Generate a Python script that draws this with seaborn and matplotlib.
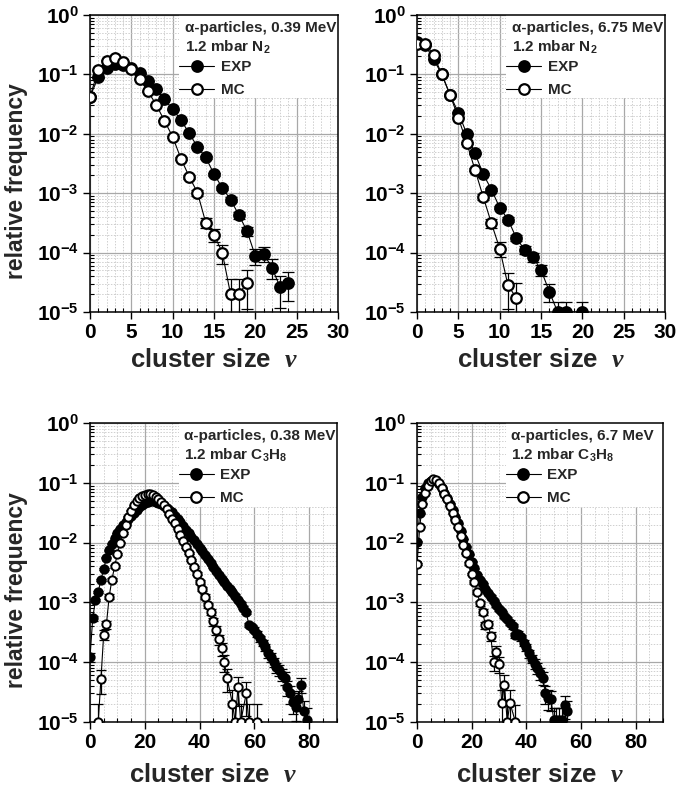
import numpy as np
import matplotlib
matplotlib.use("Agg")
import matplotlib.pyplot as plt
import seaborn as sns
from matplotlib.ticker import MultipleLocator, LogLocator, FuncFormatter, NullFormatter
from matplotlib.patches import Rectangle

sns.set_theme(style="ticks")
plt.rcParams.update({
    "font.family": ["Liberation Sans", "DejaVu Sans"],
    "font.weight": "bold",
    "mathtext.fontset": "custom",
    "mathtext.rm": "Liberation Sans:bold",
    "mathtext.bf": "Liberation Sans:bold",
    "mathtext.it": "Liberation Serif:italic",
    "axes.edgecolor": "black",
    "axes.linewidth": 1.1,
    "xtick.color": "black",
    "ytick.color": "black",
})

# ---- alpha-particles 0.39 MeV in 1.2 mbar N2 ----
n2_low_exp_nu = list(range(0, 25))
n2_low_exp = [0.042, 0.089, 0.126, 0.149, 0.144, 0.126, 0.104, 0.077, 0.056, 0.038,
              0.026, 0.017, 0.0102, 0.0060, 0.0040, 0.0021, 0.00123, 0.00078, 0.00043,
              0.00023, 8.7e-5, 9.6e-5, 5.6e-5, 2.6e-5, 3.1e-5]
n2_low_mc_nu = list(range(0, 20))
n2_low_mc = [0.042, 0.118, 0.17, 0.19, 0.163, 0.125, 0.083, 0.052, 0.031, 0.0166,
             0.0089, 0.0038, 0.0019, 0.00102, 0.00032, 0.0002, 0.0001, 2.0e-5, 2.0e-5, 3.1e-5]

# ---- alpha-particles 6.75 MeV in 1.2 mbar N2 ----
n2_high_exp_nu = list(range(0, 19)) + [20]
n2_high_exp = [0.355, 0.31, 0.18, 0.10, 0.045, 0.0226, 0.0101, 0.0047, 0.0021, 0.00115,
               0.00057, 0.00036, 0.000177, 0.000112, 8.5e-5, 5.1e-5, 2.2e-5, 1.0e-5, 1.0e-5,
               1.0e-5]
n2_high_mc_nu = list(range(0, 13))
n2_high_mc = [0.33, 0.33, 0.21, 0.10, 0.045, 0.0186, 0.0071, 0.0025, 0.00087, 0.00031,
              0.000117, 2.8e-5, 1.74e-5]

# ---- alpha-particles 0.38 MeV in 1.2 mbar C3H8 ----
c3h8_low_exp_nu = list(range(0, 80))
c3h8_low_exp = [1.2e-4, 5.4e-4, 1.1e-3, 1.5e-3, 2.4e-3, 3.6e-3, 5.6e-3, 7.5e-3, 9.6e-3, 0.0118,
                0.0145, 0.017, 0.0195, 0.022, 0.025, 0.028, 0.031, 0.035, 0.039, 0.043,
                0.046, 0.048, 0.049, 0.049, 0.048, 0.046, 0.044, 0.041, 0.038, 0.035,
                0.032, 0.028, 0.025, 0.022, 0.019, 0.0165, 0.0145, 0.0125, 0.011, 0.0095,
                0.0082, 0.0072, 0.0062, 0.0053, 0.0045, 0.0039, 0.0034, 0.0029, 0.0025, 0.0022,
                0.0019, 0.0017, 0.0015, 0.0013, 0.0011, 0.00095, 0.00082, 0.00068, 0.00042, 0.00039,
                0.00035, 0.00030, 0.00025, 0.00021, 0.00018, 0.00014, 0.00012, 0.0001, 8.2e-5, 7.5e-5,
                6.2e-5, 5.5e-5, 3.8e-5, 3.0e-5, 2.2e-5, 1.8e-5, 2.4e-5, 4.2e-5, 1.5e-5, 1.1e-5]
c3h8_low_mc_nu = list(range(3, 51)) + [52, 53, 54, 55, 57, 58, 61]
c3h8_low_mc = [1.0e-5, 5.2e-5, 2.9e-4, 4.3e-4, 1.25e-3, 2.4e-3, 4.0e-3, 6.5e-3, 0.0100, 0.0145,
               0.020, 0.027, 0.034, 0.042, 0.049, 0.055, 0.060, 0.063, 0.065, 0.065,
               0.063, 0.059, 0.054, 0.048, 0.042, 0.036, 0.030, 0.025, 0.021, 0.017,
               0.0135, 0.0108, 0.0085, 0.0066, 0.0051, 0.0039, 0.0030, 0.0022, 0.0017, 0.00125,
               9.0e-4, 7.0e-4, 4.8e-4, 3.4e-4, 2.4e-4, 1.7e-4, 1.0e-4, 5.5e-5,
               2.0e-5, 1.0e-5, 3.8e-5, 1.0e-5, 3.0e-5, 1.0e-5, 1.0e-5]

# ---- alpha-particles 6.7 MeV in 1.2 mbar C3H8 ----
c3h8_high_exp_nu = list(range(0, 56))
c3h8_high_exp = [0.0104, 0.031, 0.058, 0.082, 0.098, 0.108, 0.112, 0.107, 0.096, 0.082,
                 0.068, 0.056, 0.045, 0.035, 0.027, 0.021, 0.0155, 0.0115, 8.6e-3, 6.4e-3,
                 4.8e-3, 3.7e-3, 2.9e-3, 2.4e-3, 2.0e-3, 1.7e-3, 1.45e-3, 1.25e-3, 1.05e-3, 9.0e-4,
                 7.8e-4, 6.8e-4, 6.0e-4, 5.3e-4, 4.6e-4, 4.0e-4, 2.8e-4, 3.0e-4, 2.6e-4, 2.1e-4,
                 1.8e-4, 1.4e-4, 1.15e-4, 9.5e-5, 8.0e-5, 6.5e-5, 5.5e-5, 3.0e-5, 2.5e-5, 2.4e-5,
                 1.1e-5, 1.1e-5, 1.1e-5, 1.1e-5, 1.9e-5, 1.5e-5]
c3h8_high_mc_nu = list(range(0, 35)) + [36]
c3h8_high_mc = [4.4e-3, 0.0185, 0.045, 0.068, 0.090, 0.107, 0.116, 0.113, 0.100, 0.081,
                0.066, 0.053, 0.041, 0.031, 0.024, 0.018, 0.013, 9.3e-3, 6.6e-3, 4.5e-3,
                3.0e-3, 2.2e-3, 1.5e-3, 9.6e-4, 7.0e-4, 4.2e-4, 4.3e-4, 2.7e-4, 1.0e-4, 1.5e-4,
                9.5e-5, 2.1e-5, 4.2e-5, 1.0e-5, 2.1e-5, 1.0e-5]

# number of recorded events per distribution (sets the statistical error bars)
events = {
    "n2_low": (1.3e5, 8e4),
    "n2_high": (4e5, 1e5),
    "c3h8_low": (3e5, 1e5),
    "c3h8_high": (3e5, 1.2e5),
}

panels = [
    dict(key="n2_low", exp=(n2_low_exp_nu, n2_low_exp), mc=(n2_low_mc_nu, n2_low_mc),
         title="α-particles, 0.39 MeV", gas="1.2 mbar N$_2$",
         rect=[0.1302, 0.6056, 0.359, 0.3755], xmax=30, xmajor=5, xminor=1,
         ms=7.6, mew=1.6, cap=8, left=True, top=True),
    dict(key="n2_high", exp=(n2_high_exp_nu, n2_high_exp), mc=(n2_high_mc_nu, n2_high_mc),
         title="α-particles, 6.75 MeV", gas="1.2 mbar N$_2$",
         rect=[0.6035, 0.6056, 0.359, 0.3755], xmax=30, xmajor=5, xminor=1,
         ms=7.6, mew=1.6, cap=8, left=False, top=True),
    dict(key="c3h8_low", exp=(c3h8_low_exp_nu, c3h8_low_exp), mc=(c3h8_low_mc_nu, c3h8_low_mc),
         title="α-particles, 0.38 MeV", gas="1.2 mbar C$_3$H$_8$",
         rect=[0.1302, 0.0872, 0.357, 0.378], xmax=90, xmajor=20, xminor=5,
         ms=6.0, mew=1.4, cap=7, left=True, top=False),
    dict(key="c3h8_high", exp=(c3h8_high_exp_nu, c3h8_high_exp), mc=(c3h8_high_mc_nu, c3h8_high_mc),
         title="α-particles, 6.7 MeV", gas="1.2 mbar C$_3$H$_8$",
         rect=[0.6035, 0.0872, 0.356, 0.378], xmax=90, xmajor=20, xminor=5,
         ms=6.0, mew=1.4, cap=7, left=False, top=False),
]


def stat_errors(values, n_events):
    v = np.asarray(values)
    sig = np.sqrt(v / n_events)
    lower = np.minimum(sig, 0.999 * v)
    return np.vstack([lower, sig])


fig = plt.figure(figsize=(6.91, 7.91), dpi=100)
fig.patch.set_facecolor("white")

for p in panels:
    ax = fig.add_axes(p["rect"])
    ax.set_facecolor("white")
    ax.set_yscale("log")
    ax.set_ylim(1e-5, 1)
    ax.set_xlim(0, p["xmax"])

    ax.xaxis.set_major_locator(MultipleLocator(p["xmajor"]))
    ax.xaxis.set_minor_locator(MultipleLocator(p["xminor"]))
    ax.yaxis.set_major_locator(LogLocator(base=10, numticks=10))
    ax.yaxis.set_minor_locator(LogLocator(base=10, subs=np.arange(2, 10), numticks=20))
    ax.yaxis.set_major_formatter(FuncFormatter(lambda v, pos: r"$10^{%d}$" % round(np.log10(v))))
    ax.yaxis.set_minor_formatter(NullFormatter())

    ax.set_axisbelow(True)
    ax.grid(which="major", color="#a8a8a8", linewidth=0.9, linestyle="-")
    ax.grid(which="minor", color="#cfcfcf", linewidth=0.7, linestyle=(0, (1.5, 1.5)))

    # white panel behind the annotation block
    ax.add_patch(Rectangle((0.36, 0.72), 0.64, 0.28, transform=ax.transAxes,
                           facecolor="white", edgecolor="none", zorder=1))

    n_exp, n_mc = events[p["key"]]
    ex, ey = p["exp"]
    mx, my = p["mc"]
    ax.errorbar(ex, ey, yerr=stat_errors(ey, n_exp), fmt="none", ecolor="black",
                elinewidth=0.9, capsize=p["cap"] / 2, capthick=0.9, zorder=2)
    ax.errorbar(mx, my, yerr=stat_errors(my, n_mc), fmt="none", ecolor="black",
                elinewidth=0.9, capsize=p["cap"] / 2, capthick=0.9, zorder=2)

    sns.lineplot(x=ex, y=ey, ax=ax, errorbar=None, color="black", linewidth=0.8,
                 marker="o", markersize=p["ms"], markerfacecolor="black",
                 markeredgecolor="black", markeredgewidth=p["mew"], label="EXP", zorder=3)
    sns.lineplot(x=mx, y=my, ax=ax, errorbar=None, color="black", linewidth=0.8,
                 marker="o", markersize=p["ms"], markerfacecolor="white",
                 markeredgecolor="black", markeredgewidth=p["mew"], label="MC", zorder=4)

    ax.text(0.383, 0.955, p["title"], transform=ax.transAxes, fontsize=11,
            fontweight="bold", ha="left", va="center", zorder=5)
    ax.text(0.383, 0.89, p["gas"], transform=ax.transAxes, fontsize=11,
            fontweight="bold", ha="left", va="center", zorder=5)

    leg = ax.legend(loc="upper left", bbox_to_anchor=(0.36, 0.848), frameon=False,
                    prop=dict(weight="bold", size=11), handlelength=2.3,
                    handletextpad=0.4, labelspacing=0.58, borderaxespad=0.0,
                    borderpad=0.0)
    for h in leg.legend_handles:
        h.set_markersize(7.6)
        h.set_markeredgewidth(1.6)

    ax.tick_params(which="major", direction="out", length=5, width=1.0,
                   top=False, right=False, pad=3)
    ax.tick_params(which="minor", direction="in", length=3, width=0.8,
                   top=False, right=False)
    ax.tick_params(axis="x", which="major", labelsize=15)
    ax.tick_params(axis="y", which="major", labelsize=15)
    for lab in ax.get_xticklabels() + ax.get_yticklabels():
        lab.set_fontweight("bold")
    for s in ax.spines.values():
        s.set_visible(True)
        s.set_color("black")
        s.set_linewidth(1.1)

    ax.set_xlabel(r"cluster size  $\nu$", fontsize=18.5, fontweight="bold")
    ax.xaxis.set_label_coords(0.5, -0.122 if p["top"] else -0.137)
    if p["left"]:
        ax.set_ylabel("relative frequency", fontsize=16.5, fontweight="bold")
        ax.yaxis.set_label_coords(-0.25, 0.44)
    else:
        ax.set_ylabel("")

fig.savefig("out.png", dpi=100, facecolor="white")
